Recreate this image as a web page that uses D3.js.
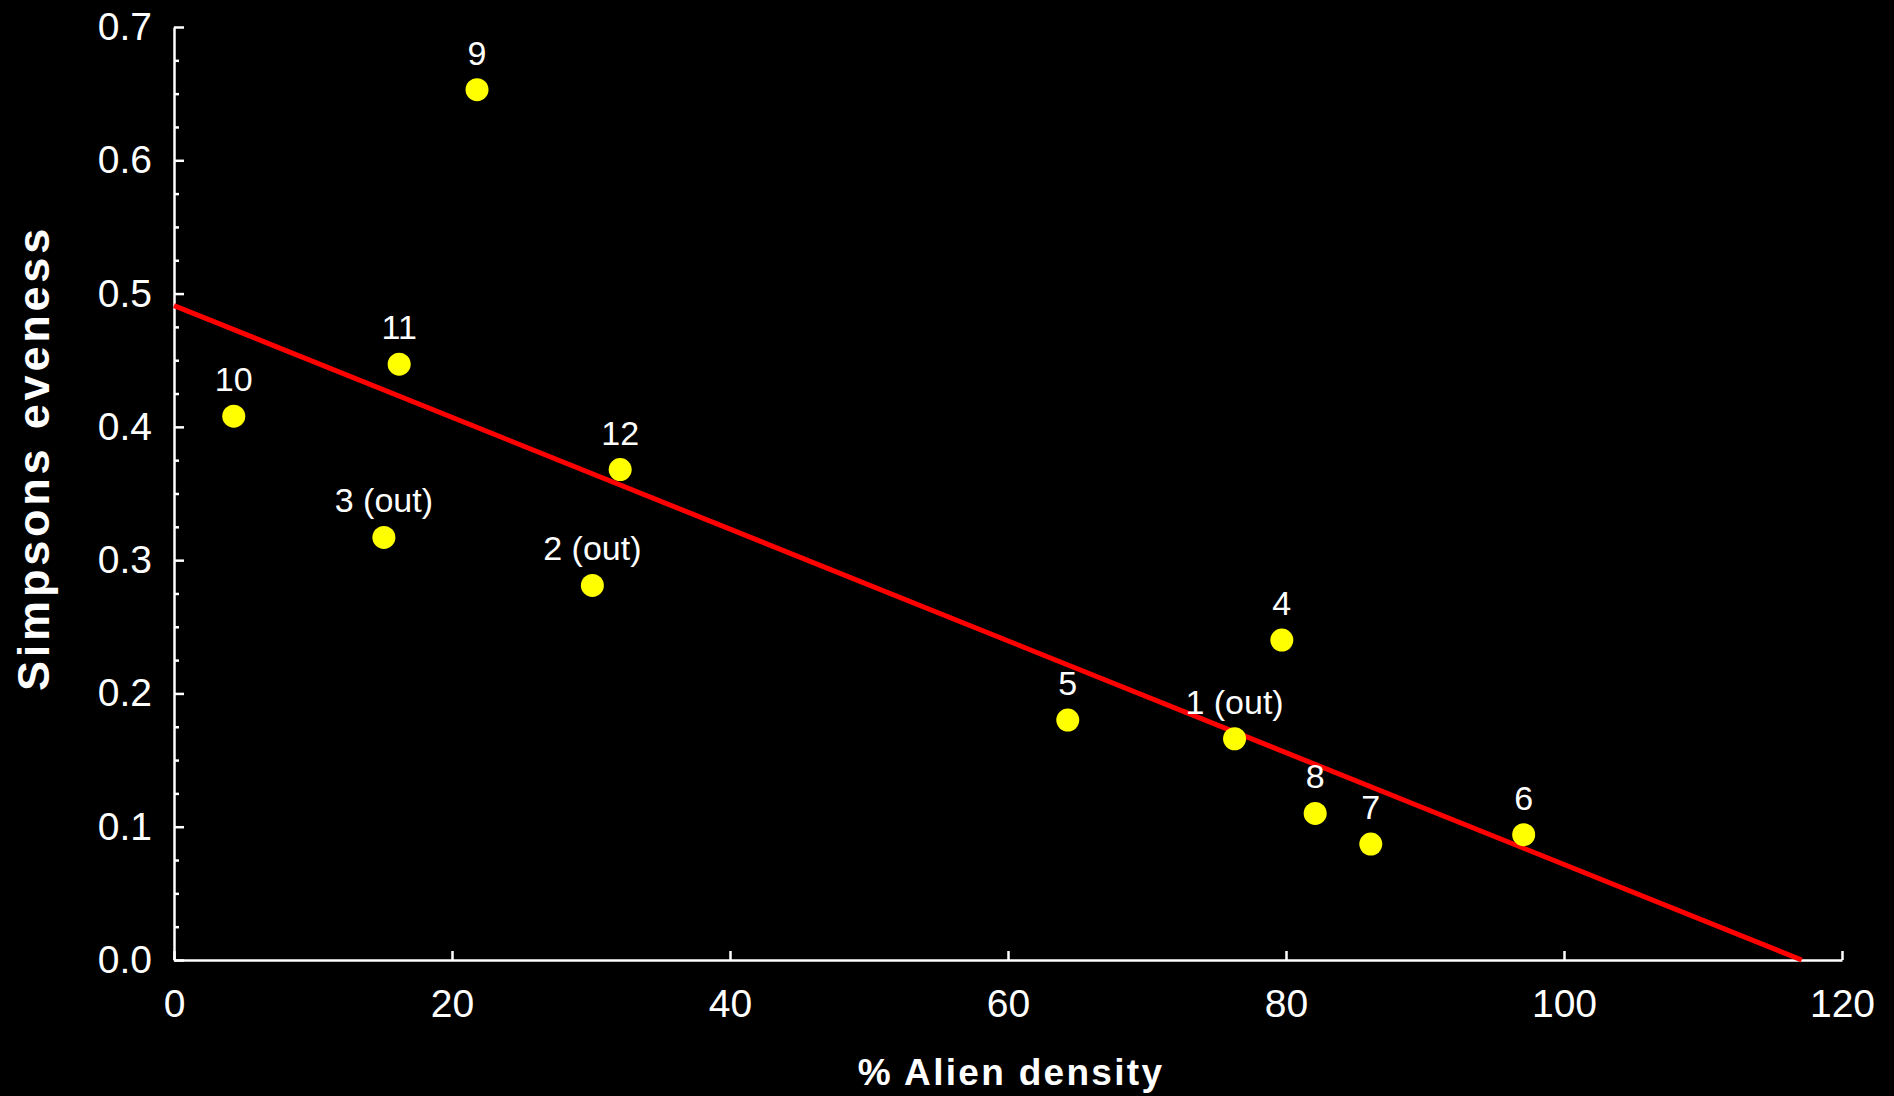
<!DOCTYPE html>
<html>
<head>
<meta charset="utf-8">
<script src="https://cdn.jsdelivr.net/npm/d3@7/dist/d3.min.js"></script>
<style>
  html, body { margin: 0; padding: 0; background: #000; }
  svg { display: block; }
</style>
</head>
<body>
<svg id="chart" width="1894" height="1096"></svg>
<script>
// sites: % alien density vs Simpsons evenness
var siteLabels = ["9", "11", "10", "12", "3 (out)", "2 (out)", "4", "5", "1 (out)", "8", "7", "6"];
var alienDensity = [21.8, 16.2, 4.3, 32.1, 15.1, 30.1, 79.7, 64.3, 76.3, 82.1, 86.1, 97.1];
var evenness = [0.653, 0.447, 0.408, 0.368, 0.317, 0.281, 0.240, 0.180, 0.166, 0.110, 0.087, 0.094];

// fitted line ends
var fitX = [0, 117.1];
var fitY = [0.491, 0];

var xTicks = [0, 20, 40, 60, 80, 100, 120];
var yTicks = [0, 0.1, 0.2, 0.3, 0.4, 0.5, 0.6, 0.7];
var yMinorTicks = [0.025, 0.05, 0.075, 0.125, 0.15, 0.175, 0.225, 0.25, 0.275, 0.325, 0.35, 0.375,
                   0.425, 0.45, 0.475, 0.525, 0.55, 0.575, 0.625, 0.65, 0.675];

var svg = d3.select('#chart');
svg.append('rect').attr('width', 1894).attr('height', 1096).attr('fill', '#000');

var x = d3.scaleLinear().domain([0, 120]).range([174, 1842]);
var y = d3.scaleLinear().domain([0, 0.7]).range([960, 27]);

var font = "'Liberation Sans', Arial, sans-serif";

// minor ticks on y
var yMinor = svg.append('g')
    .attr('transform', 'translate(174,0)')
    .call(d3.axisLeft(y).tickValues(yMinorTicks).tickSize(-5).tickFormat(''));
yMinor.select('.domain').remove();
yMinor.selectAll('line').attr('stroke', '#fff').attr('stroke-width', 2.5);

var yAxis = svg.append('g')
    .attr('transform', 'translate(174,0)')
    .call(d3.axisLeft(y).tickValues(yTicks).tickSizeInner(-10).tickSizeOuter(0)
        .tickPadding(22).tickFormat(d3.format('.1f')));

var xAxis = svg.append('g')
    .attr('transform', 'translate(0,960)')
    .call(d3.axisBottom(x).tickValues(xTicks).tickSizeInner(-9).tickSizeOuter(0)
        .tickPadding(29).tickFormat(d3.format('d')));

[xAxis, yAxis].forEach(function (g) {
    g.select('.domain').attr('stroke', '#fff').attr('stroke-width', 2.5);
    g.selectAll('line').attr('stroke', '#fff').attr('stroke-width', 2.5);
    g.selectAll('text')
        .attr('fill', '#fff')
        .style('font-family', font)
        .style('font-size', '39px');
});

// regression line
var fitData = fitX.map(function (d, i) { return [d, fitY[i]]; });
svg.append('path')
    .datum(fitData)
    .attr('d', d3.line().x(function (d) { return x(d[0]); }).y(function (d) { return y(d[1]); }))
    .attr('stroke', '#ff0000')
    .attr('stroke-width', 5)
    .attr('fill', 'none');

var points = siteLabels.map(function (d, i) {
    return { label: d, x: alienDensity[i], y: evenness[i] };
});

svg.append('g').selectAll('circle')
    .data(points)
    .enter()
    .append('circle')
    .attr('cx', function (d) { return x(d.x); })
    .attr('cy', function (d) { return y(d.y); })
    .attr('r', 11.5)
    .attr('fill', '#ffff00');

svg.append('g').selectAll('text')
    .data(points)
    .enter()
    .append('text')
    .attr('x', function (d) { return x(d.x); })
    .attr('y', function (d) { return y(d.y) - 25; })
    .attr('text-anchor', 'middle')
    .attr('fill', '#fff')
    .style('font-family', font)
    .style('font-size', '34px')
    .text(function (d) { return d.label; });

// axis titles
svg.append('text')
    .attr('x', 1011)
    .attr('y', 1085)
    .attr('text-anchor', 'middle')
    .attr('fill', '#fff')
    .style('font-family', font)
    .style('font-weight', 'bold')
    .style('font-size', '37px')
    .style('letter-spacing', '2.3px')
    .text('% Alien density');

svg.append('text')
    .attr('transform', 'translate(49,458) rotate(-90)')
    .attr('text-anchor', 'middle')
    .attr('fill', '#fff')
    .style('font-family', font)
    .style('font-weight', 'bold')
    .style('font-size', '45px')
    .style('letter-spacing', '3.8px')
    .text('Simpsons eveness');
</script>
</body>
</html>
